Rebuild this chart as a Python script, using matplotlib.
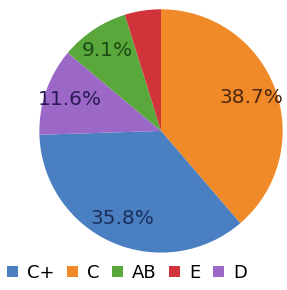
import matplotlib.pyplot as plt
from matplotlib.patches import Patch

# slice order as drawn (clockwise from top)
labels = ['C', 'C+', 'D', 'AB', 'E']
shares = [38.7, 35.8, 11.6, 9.1, 4.8]
colors = ['#f08a28', '#4a7fc1', '#9b68c8', '#5aa83c', '#d0343a']
text_colors = ['#4a2810', '#1a2f5c', '#2c1a55', '#1d4a12', '#4a1010']

# legend order
legend_labels = ['C+', 'C', 'AB', 'E', 'D']

def pct(v):
    return '%.1f%%' % v if v > 6 else ''

fig = plt.figure(figsize=(2.87, 2.90), dpi=100)
ax = fig.add_axes([0.137, 0.129, 0.848, 0.839])
wedges, texts, autotexts = ax.pie(shares, colors=colors, startangle=90, counterclock=False,
                                  autopct=pct, pctdistance=0.79,
                                  textprops={'fontsize': 14.5})
for t, c in zip(autotexts, text_colors):
    t.set_color(c)
ax.set_xlim(-1, 1)
ax.set_ylim(-1, 1)
ax.set_aspect('equal')

color_of = dict(zip(labels, colors))
handles = [Patch(facecolor=color_of[l], edgecolor='none') for l in legend_labels]
fig.legend(handles, legend_labels, loc='center left', bbox_to_anchor=(0.0, 0.059),
           ncol=5, frameon=False, fontsize=13, handlelength=0.6, handleheight=0.6,
           handletextpad=0.5, columnspacing=0.7, borderpad=0.1, borderaxespad=0.3)

fig.savefig('out.png', dpi=100)
